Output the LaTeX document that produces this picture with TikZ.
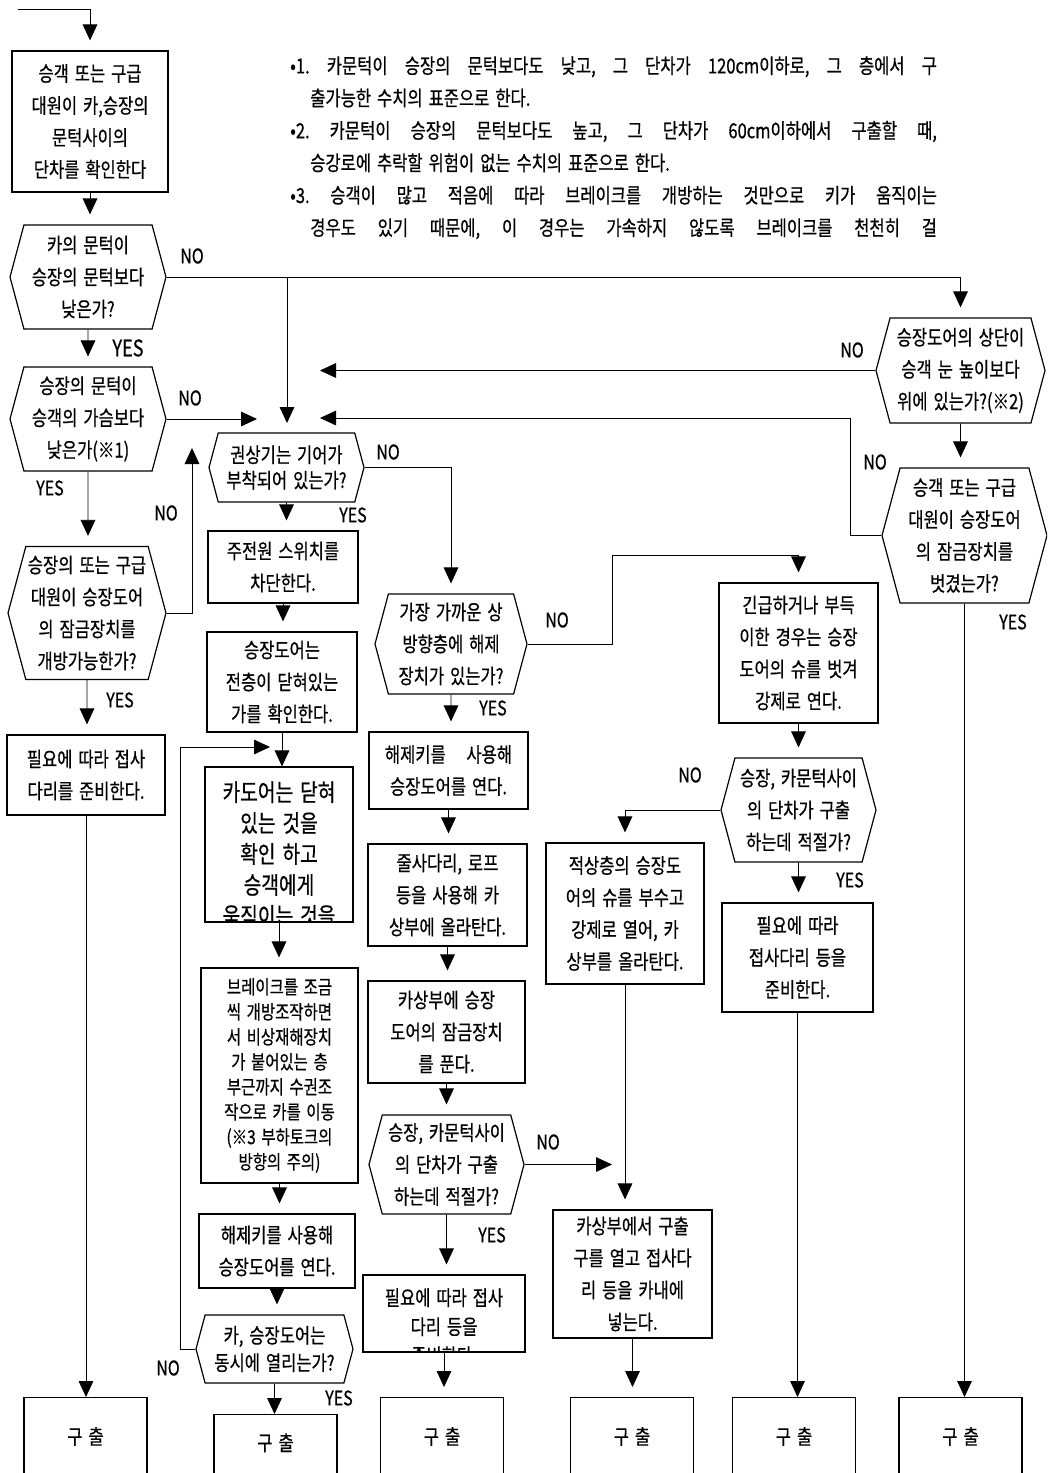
\documentclass[tikz,border=0pt]{standalone}
\usepackage{fontspec}
\setmainfont{Noto Sans CJK KR}[FakeStretch=0.8, FakeBold=0.6, WordSpace=1.6]
\usetikzlibrary{arrows.meta, shapes.symbols}
\frenchspacing

\begin{document}
\begin{tikzpicture}[x=0.75pt,y=-0.75pt,
    every node/.style={font=\fontsize{15.5}{24}\selectfont, inner sep=0pt},
    box/.style 2 args={draw, line width=0.9pt, minimum width=#1*0.75pt, minimum height=#2*0.75pt, align=center},
    dec/.style 2 args={draw, line width=0.9pt, signal, signal to=east and west, signal pointer angle=150,
        minimum width=#1*0.75pt, minimum height=#2*0.75pt, align=center},
    outbox/.style={draw, line width=0.9pt, anchor=north, minimum width=123*0.75pt,
        text height=12pt, text depth=60pt, inner ysep=23pt},
    lbl/.style={font=\fontsize{15}{15}\selectfont},
    arr/.style={-{Triangle[length=12pt,width=11pt]}, line width=0.6pt, shorten >=7.5pt},
    arr0/.style={arr, shorten >=0pt}]
    \useasboundingbox (0,0) rectangle (1047,1473);
    \clip (0,0) rectangle (1047,1473);

    % notes
    \node[anchor=north west, align=left, font=\fontsize{15.5}{24.3}\selectfont] (note) at (290,56) {%
        \makebox[485pt][s]{•1. 카문턱이 승장의 문턱보다도 낮고, 그 단차가 120cm이하로, 그 층에서 구}\\
        \hspace*{15pt}출가능한 수치의 표준으로 한다.\\
        \makebox[485pt][s]{•2. 카문턱이 승장의 문턱보다도 높고, 그 단차가 60cm이하에서 구출할 때,}\\
        \hspace*{15pt}승강로에 추락할 위험이 없는 수치의 표준으로 한다.\\
        \makebox[485pt][s]{•3. 승객이 많고 적음에 따라 브레이크를 개방하는 것만으로 키가 움직이는}\\
        \hspace*{15pt}\makebox[470pt][s]{경우도 있기 때문에, 이 경우는 가속하지 않도록 브레이크를 천천히 걸}};

    % left column
    \node[box={156}{141}] (b1) at (90,121.5) {승객 또는 구급\\대원이 카,승장의\\문턱사이의\\단차를 확인한다};
    \node[dec={156}{104}] (h1) at (88,277) {카의 문턱이\\승장의 문턱보다\\낮은가?};
    \node[dec={156}{104}] (h2) at (88,419) {승장의 문턱이\\승객의 가슴보다\\낮은가(※1)};
    \node[dec={158}{133}] (h3) at (87,613) {승장의 또는 구급\\대원이 승장도어\\의 잠금장치를\\개방가능한가?};
    \node[box={158}{80}] (b2) at (86,775) {필요에 따라 접사\\다리를 준비한다.};

    % second column
    \node[dec={155}{69}, font=\fontsize{15.5}{19}\selectfont] (k1) at (286.5,467.5) {권상기는 기어가\\부착되어 있는가?};
    \node[box={150}{72}] (m1) at (283,567) {주전원 스위치를\\차단한다.};
    \node[box={150}{100}] (m2) at (282,682) {승장도어는\\전층이 닫혀있는\\가를 확인한다.};
    \node[box={148}{155}] (m3) at (279,844.5) {};
    \begin{scope}
        \clip (m3.south west) rectangle (m3.north east);
        \node[anchor=north, align=center, font=\fontsize{18}{23.2}\selectfont] (m3t) at (279,781)
            {카도어는 닫혀\\있는 것을\\확인 하고\\승객에게\\움직이는 것을};
    \end{scope}
    \node[box={157}{215}, font=\fontsize{14.5}{18.75}\selectfont] (m4) at (279.5,1075.5)
        {브레이크를 조금\\씩 개방조작하면\\서 비상재해장치\\가 붙어있는 층\\부근까지 수권조\\작으로 카를 이동\\(※3 부하토크의\\방향의 주의)};
    \node[box={156}{74}] (m5) at (277,1251) {해제키를 사용해\\승장도어를 연다.};
    \node[dec={157}{68}, font=\fontsize{15.5}{20.5}\selectfont] (m6) at (274.5,1349) {카, 승장도어는\\동시에 열리는가?};

    % third column
    \node[dec={152}{100}] (c1) at (451,644) {가장 가까운 상\\방향층에 해제\\장치가 있는가?};
    \node[box={159}{77}] (c2) at (448.5,770.5) {해제키를\quad 사용해\\승장도어를 연다.};
    \node[box={159}{102}] (c3) at (447.5,895) {줄사다리, 로프\\등을 사용해 카\\상부에 올라탄다.};
    \node[box={157}{102}] (c4) at (446.5,1032) {카상부에 승장\\도어의 잠금장치\\를 푼다.};
    \node[dec={155}{99}] (c5) at (446.5,1164.5) {승장, 카문턱사이\\의 단차가 구출\\하는데 적절가?};
    \node[box={162}{77}] (c6) at (444,1313.5) {};
    \begin{scope}
        \clip (c6.south west) rectangle (c6.north east);
        \node[anchor=north, align=center, font=\fontsize{15.5}{21.75}\selectfont] (c6t) at (444,1288)
            {필요에 따라 접사\\다리 등을\\준비한다.};
    \end{scope}

    % right columns
    \node[box={159}{140}] (d1) at (798.5,653) {긴급하거나 부득\\이한 경우는 승장\\도어의 슈를 벗겨\\강제로 연다.};
    \node[dec={155}{104}] (d2) at (798.5,810) {승장, 카문턱사이\\의 단차가 구출\\하는데 적절가?};
    \node[box={151}{109}] (d3) at (797.5,957.5) {필요에 따라\\접사다리 등을\\준비한다.};
    \node[box={158}{141}] (e1) at (625,913.5) {적상층의 승장도\\어의 슈를 부수고\\강제로 열어, 카\\상부를 올라탄다.};
    \node[box={159}{128}] (e2) at (632.5,1274) {카상부에서 구출\\구를 열고 접사다\\리 등을 카내에\\넣는다.};
    \node[dec={169}{105}] (r1) at (960.5,370.5) {승장도어의 상단이\\승객 눈 높이보다\\위에 있는가?(※2)};
    \node[dec={165}{135}] (r2) at (964.5,535.5) {승객 또는 구급\\대원이 승장도어\\의 잠금장치를\\벗겼는가?};

    % exits
    \node[outbox] (g1) at (85.5,1397) {구 출};
    \node[outbox, inner ysep=15pt] (g2) at (275.5,1414) {구 출};
    \node[outbox] (g3) at (442,1397) {구 출};
    \node[outbox] (g4) at (632,1397) {구 출};
    \node[outbox] (g5) at (794,1397) {구 출};
    \node[outbox] (g6) at (960.5,1397) {구 출};

    % free ends and bends
    \coordinate (start) at (18,9);
    \coordinate (mL) at (257,419);
    \coordinate (mT) at (287,423);
    \coordinate (mR1) at (320,370.5);
    \coordinate (mR2) at (320,418);
    \coordinate (kR2) at (850,418);
    \coordinate (mUp) at (192,448);
    \coordinate (kB) at (180,747);
    \coordinate (mBack) at (270,747);
    \coordinate (kD) at (612,555);
    \coordinate (mC) at (612,1164.5);

    % connectors
    \draw[arr] (start) -| (b1.north);
    \draw[arr] (b1) -- (b1 |- h1.north);
    \draw[arr] (h1) -- (h1 |- h2.north);
    \draw[arr] (h1.east) -| (r1.north);
    \draw[arr0] (h1.east -| mT) -- (mT);
    \draw[arr] (h2) -- (h2 |- h3.north);
    \draw[arr0] (h2.east) -- (mL);
    \draw[arr] (h3) -- (h3 |- b2.north);
    \draw[arr0] (h3.east) -| (mUp);
    \draw[arr0] (b2) -- (b2 |- g1.north);

    \draw[arr] (k1) -- (k1 |- m1.north);
    \draw[arr] (k1.east) -| (c1.north);
    \draw[arr] (m1) -- (m1 |- m2.north);
    \draw[arr0] (m2) -- (m2 |- m3.north);
    \draw[arr] (m3) -- (m3 |- m4.north);
    \draw[arr] (m4) -- (m4 |- m5.north);
    \draw[arr] (m5) -- (m5 |- m6.north);
    \draw[arr0] (m6) -- (m6 |- g2.north);
    \draw[arr0] (m6.west) -| (kB) -- (mBack);

    \draw[arr] (c1) -- (c1 |- c2.north);
    \draw[arr] (c1.east) -| (kD) -| (d1.north);
    \draw[arr] (c2) -- (c2 |- c3.north);
    \draw[arr] (c3) -- (c3 |- c4.north);
    \draw[arr] (c4) -- (c4 |- c5.north);
    \draw[arr] (c5) -- (c5 |- c6.north);
    \draw[arr0] (c5.east) -- (mC);
    \draw[arr] (c6) -- (c6 |- g3.north);

    \draw[arr] (d1) -- (d1 |- d2.north);
    \draw[arr] (d2) -- (d2 |- d3.north);
    \draw[arr] (d2.west) -| (e1.north);
    \draw[arr0] (d3) -- (d3 |- g5.north);
    \draw[arr] (e1) -- (e1 |- e2.north);
    \draw[arr] (e2) -- (e2 |- g4.north);

    \draw[arr0] (r1.west) -- (mR1);
    \draw[arr] (r1) -- (r1 |- r2.north);
    \draw[arr0] (r2.west) -| (kR2) -- (mR2);
    \draw[arr0] (r2) -- (r2 |- g6.north);

    % YES / NO
    \node[lbl, font=\fontsize{17}{17}\selectfont] (y1) at (128,348) {YES};
    \node[lbl] (n1) at (192,256) {NO};
    \node[lbl] (n2) at (190,398) {NO};
    \node[lbl] (y2) at (50,488) {YES};
    \node[lbl] (n3) at (166,513) {NO};
    \node[lbl] (y3) at (120,700) {YES};
    \node[lbl] (nk) at (388,452) {NO};
    \node[lbl] (yk) at (353,515) {YES};
    \node[lbl] (nc1) at (557,620) {NO};
    \node[lbl] (yc1) at (493,708) {YES};
    \node[lbl] (nr1) at (852,350) {NO};
    \node[lbl] (nr2) at (875,462) {NO};
    \node[lbl] (yr2) at (1013,622) {YES};
    \node[lbl] (nd2) at (690,775) {NO};
    \node[lbl] (yd2) at (850,880) {YES};
    \node[lbl] (nc5) at (548,1142) {NO};
    \node[lbl] (yc5) at (492,1235) {YES};
    \node[lbl] (nm6) at (168,1368) {NO};
    \node[lbl] (ym6) at (339,1398) {YES};
\end{tikzpicture}
\end{document}
